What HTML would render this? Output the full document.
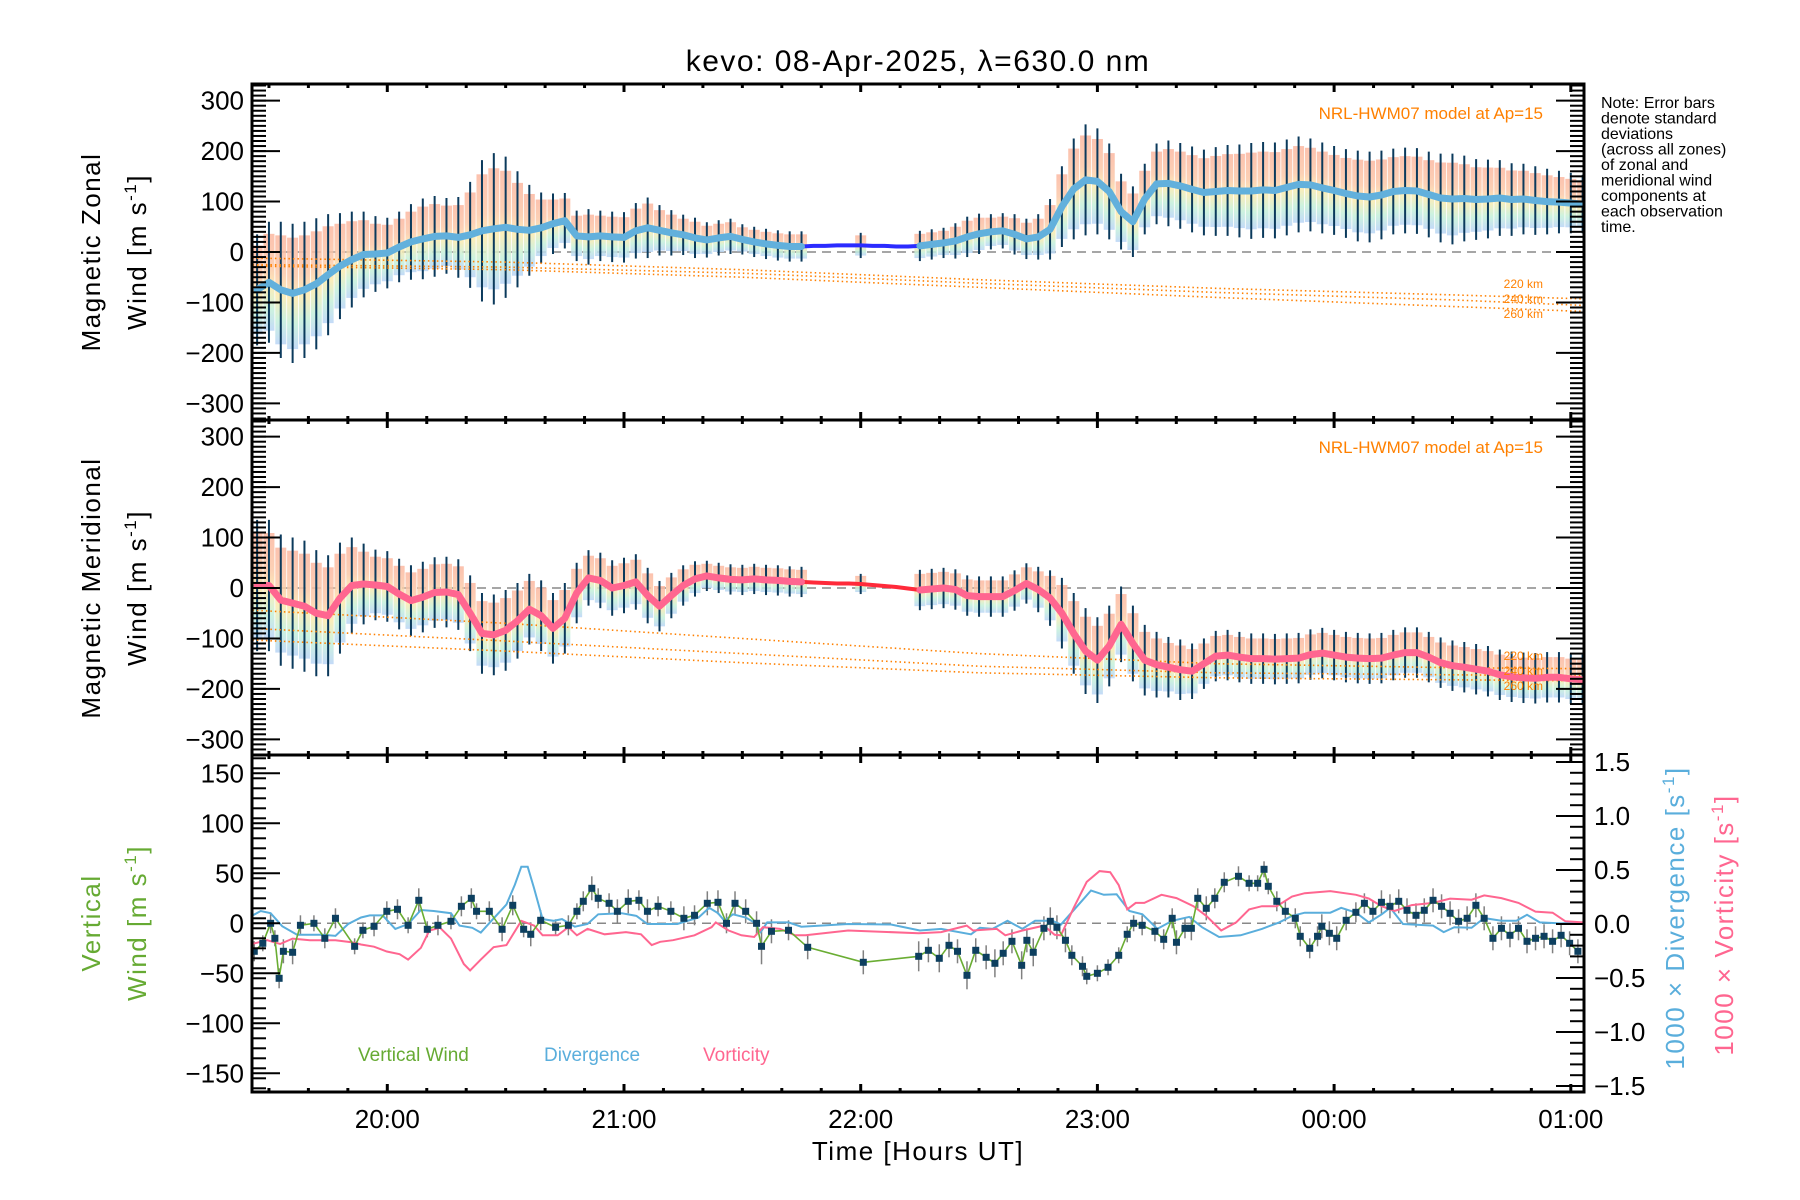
<!DOCTYPE html>
<html>
<head>
<meta charset="utf-8">
<style>
html,body{margin:0;padding:0;background:#fff;}
svg{display:block;}
text{font-family:"Liberation Sans",sans-serif;}
.ttl{letter-spacing:1.5px;}
</style>
</head>
<body>
<svg id="chart" width="1800" height="1200" viewBox="0 0 1800 1200" xmlns="http://www.w3.org/2000/svg">
<defs>
<linearGradient id="bandGrad" x1="0" y1="0" x2="0" y2="1">
<stop offset="0" stop-color="#fbb7a0"/>
<stop offset="0.35" stop-color="#fbc8a8"/>
<stop offset="0.55" stop-color="#fbeaad"/>
<stop offset="0.78" stop-color="#c4f0da"/>
<stop offset="1" stop-color="#b9d4f6"/>
</linearGradient>
<clipPath id="clipP1"><rect x="252" y="84" width="1332" height="336"/></clipPath>
<clipPath id="clipP2"><rect x="252" y="420" width="1332" height="335"/></clipPath>
<clipPath id="clipP3"><rect x="252" y="755" width="1332" height="337"/></clipPath>
</defs>
<text class="ttl" x="918" y="71" font-size="30" text-anchor="middle" fill="#000">kevo: 08-Apr-2025, λ=630.0 nm</text>
<g id="p1"></g>
<g id="p2"></g>
<g id="p3"></g>
<g id="axes"></g>

<text class="ttl" transform="translate(100,252) rotate(-90)" font-size="26" text-anchor="middle">Magnetic Zonal</text>
<text class="ttl" transform="translate(146,252) rotate(-90)" font-size="26" text-anchor="middle">Wind [m s<tspan font-size="17" dy="-10">-1</tspan><tspan dy="10">]</tspan></text>
<text class="ttl" transform="translate(100,588) rotate(-90)" font-size="26" text-anchor="middle">Magnetic Meridional</text>
<text class="ttl" transform="translate(146,588) rotate(-90)" font-size="26" text-anchor="middle">Wind [m s<tspan font-size="17" dy="-10">-1</tspan><tspan dy="10">]</tspan></text>
<text class="ttl" transform="translate(100,923) rotate(-90)" font-size="26" text-anchor="middle" fill="#66aa33">Vertical</text>
<text class="ttl" transform="translate(146,923) rotate(-90)" font-size="26" text-anchor="middle" fill="#66aa33">Wind [m s<tspan font-size="17" dy="-10">-1</tspan><tspan dy="10">]</tspan></text>
<text class="ttl" transform="translate(1684,918) rotate(-90)" font-size="26" text-anchor="middle" fill="#5aaedc">1000 × Divergence [s<tspan font-size="17" dy="-10">-1</tspan><tspan dy="10">]</tspan></text>
<text class="ttl" transform="translate(1733,925) rotate(-90)" font-size="26" text-anchor="middle" fill="#ff6690">1000 × Vorticity [s<tspan font-size="17" dy="-10">-1</tspan><tspan dy="10">]</tspan></text>
<text class="ttl" x="918" y="1160" font-size="26" text-anchor="middle">Time [Hours UT]</text>

<g font-size="16" fill="#000">
<text x="1601" y="108">Note: Error bars</text>
<text x="1601" y="123.5">denote standard</text>
<text x="1601" y="139">deviations</text>
<text x="1601" y="154.5">(across all zones)</text>
<text x="1601" y="170">of zonal and</text>
<text x="1601" y="185.5">meridional wind</text>
<text x="1601" y="201">components at</text>
<text x="1601" y="216.5">each observation</text>
<text x="1601" y="232">time.</text>
</g>
<text x="1543" y="119" font-size="17" text-anchor="end" fill="#ff8000">NRL-HWM07 model at Ap=15</text>
<text x="1543" y="453" font-size="17" text-anchor="end" fill="#ff8000">NRL-HWM07 model at Ap=15</text>
<g font-size="12" fill="#ff8000" text-anchor="end">
<text x="1543" y="288">220 km</text><text x="1543" y="303">240 km</text><text x="1543" y="318">260 km</text>
</g>
<g font-size="12" fill="#ff8000" text-anchor="end">
<text x="1543" y="660">220 km</text><text x="1543" y="675">240 km</text><text x="1543" y="690">260 km</text>
</g>
<text x="358" y="1061" font-size="19" fill="#66aa33">Vertical Wind</text>
<text x="544" y="1061" font-size="19" fill="#5aaedc">Divergence</text>
<text x="703" y="1061" font-size="19" fill="#ff6690">Vorticity</text>
</svg>
<script>
// ---- data ----
const gridStart = 19.45, gridStep = 0.05;
const zonalMean = [-75,-60,-75,-82,-75,-63,-45,-28,-15,-5,
 -4,-2,10,20,26,31,32,29,34,42,
 46,49,45,43,48,56,62,32,30,32,
 30,29,42,48,43,38,34,28,24,28,
 31,25,20,16,13,11,11,12,12,13,
 13,13,12,12,11,11,12,15,18,22,
 30,36,40,42,35,26,30,45,90,125,
 143,140,120,80,60,105,135,136,131,124,
 118,120,122,121,121,123,122,128,134,133,
 127,122,116,111,109,113,120,122,121,114,
 107,105,106,104,105,107,104,105,102,100,
 99,97,95];
const zonalStd = [110,120,135,138,135,130,120,105,95,85,
 75,70,70,75,80,80,75,80,105,140,
 150,140,115,90,70,60,55,50,55,50,
 50,50,55,60,50,45,40,40,35,35,
 35,30,30,30,30,30,30,null,null,null,
 null,25,null,null,null,null,30,30,30,35,
 40,40,35,35,40,40,45,60,80,100,
 110,105,95,75,70,70,80,85,85,85,
 85,88,90,92,95,95,95,95,95,92,
 90,88,88,90,90,88,85,85,85,85,
 88,90,85,80,78,75,72,70,68,65,
 62,60,58];
const meridMean = [5,5,-24,-30,-36,-50,-55,-20,5,8,
 6,3,-12,-25,-18,-9,-8,-13,-50,-90,
 -93,-84,-65,-42,-55,-80,-60,-10,20,15,
 0,5,12,-15,-36,-15,5,18,24,20,
 17,16,18,16,15,13,12,11,10,9,
 9,8,6,4,2,-1,-4,-2,0,-3,
 -15,-17,-17,-17,-5,9,-3,-20,-50,-90,
 -125,-143,-115,-72,-110,-143,-152,-157,-162,-165,
 -150,-135,-133,-137,-140,-140,-141,-140,-139,-132,
 -129,-133,-137,-139,-140,-139,-133,-128,-128,-137,
 -148,-154,-157,-161,-165,-172,-176,-178,-179,-177,
 -177,-180,-182];
const meridStd = [130,130,130,130,130,125,120,110,95,80,
 70,70,70,70,70,70,70,70,75,80,
 80,80,75,70,70,70,70,60,55,55,
 55,55,55,55,50,45,40,35,30,30,
 30,30,30,30,30,30,30,null,null,null,
 null,20,null,null,null,null,40,40,40,40,
 40,40,40,40,40,40,45,55,70,80,
 85,85,80,75,75,70,65,60,60,55,
 50,50,50,50,50,50,50,50,50,50,
 50,50,50,50,50,50,50,50,50,50,
 50,50,50,50,50,50,50,50,50,50,
 50,50,50];
const modelTimes = [19.43,20.5,21.5,22.5,23.5,24.5,25.06];
const zonalModel220 = [-12,-20,-35,-55,-72,-85,-93];
const zonalModel240 = [-25,-30,-42,-62,-80,-95,-106];
const zonalModel260 = [-28,-35,-50,-70,-90,-108,-118];
const meridModel220 = [-44,-70,-100,-130,-150,-158,-160];
const meridModel240 = [-80,-105,-130,-155,-168,-172,-174];
const meridModel260 = [-103,-125,-148,-168,-178,-182,-184];

const vertTimes = [19.438,19.474,19.507,19.525,19.543,19.561,19.600,19.633,19.690,19.736,19.781,19.862,19.897,19.944,19.998,
 20.043,20.088,20.133,20.169,20.214,20.269,20.313,20.355,20.377,20.431,20.485,20.530,20.576,20.606,20.648,
 20.711,20.765,20.801,20.828,20.864,20.891,20.937,20.972,21.018,21.063,21.099,21.144,21.198,21.253,21.298,
 21.352,21.397,21.433,21.469,21.514,21.560,21.581,21.623,21.695,21.776,22.011,22.245,22.286,22.332,22.373,
 22.409,22.449,22.486,22.530,22.567,22.602,22.639,22.680,22.702,22.729,22.774,22.801,22.829,22.865,22.892,
 22.937,22.955,23.000,23.045,23.090,23.126,23.153,23.189,23.243,23.280,23.316,23.334,23.370,23.397,23.424,
 23.460,23.496,23.536,23.596,23.641,23.677,23.704,23.722,23.758,23.794,23.836,23.857,23.897,23.930,23.948,
 23.980,24.011,24.051,24.092,24.128,24.164,24.200,24.236,24.273,24.308,24.346,24.381,24.418,24.454,24.490,
 24.526,24.562,24.599,24.634,24.671,24.707,24.743,24.779,24.815,24.851,24.887,24.923,24.959,24.995,25.030];
const vertWind = [-28,-20,0,-15,-55,-28,-29,-2,0,-15,5,-23,-7,-3,12,
 14,-2,23,-6,-2,2,17,25,12,12,-6,18,-6,-11,3,
 -4,-2,12,22,35,25,20,12,22,23,12,17,12,5,8,
 20,21,0,20,12,0,-23,-8,-7,-24,-39,-33,-27,-35,-22,
 -28,-52,-27,-34,-40,-30,-18,-42,-17,-29,-5,2,-4,-17,-32,
 -43,-53,-50,-44,-32,-11,0,-2,-8,-16,5,-19,-5,-5,25,
 15,25,41,47,40,40,54,37,22,12,5,-13,-25,-13,-3,
 -10,-15,3,11,20,12,21,17,22,13,8,13,23,17,10,
 2,5,18,5,-15,-5,-12,-5,-18,-15,-13,-18,-12,-20,-28];
const vertErr = [10,8,10,8,10,12,12,10,8,10,10,8,8,10,10,
 10,8,12,8,10,8,10,10,8,10,12,10,8,12,10,
 8,10,8,10,12,10,10,12,12,10,12,10,10,12,10,
 12,12,10,12,12,12,18,12,10,12,12,15,12,14,12,
 12,14,12,12,14,12,12,14,12,14,12,14,12,12,10,
 10,8,8,8,8,8,8,10,10,10,10,12,10,12,10,
 12,10,10,10,8,8,8,8,10,10,10,10,10,10,12,
 12,12,10,10,10,10,12,12,12,12,12,12,12,12,12,
 12,12,12,12,12,12,12,12,12,12,12,12,12,12,12];

const divTimes = [19.42,19.465,19.507,19.556,19.619,19.727,19.781,19.835,19.889,19.926,19.98,20.034,20.088,20.142,20.196,
 20.269,20.305,20.359,20.395,20.44,20.503,20.539,20.566,20.593,20.62,20.656,20.702,20.738,20.792,20.846,
 20.891,20.99,21.053,21.099,21.225,21.315,21.36,21.397,21.424,21.46,21.514,21.55,21.577,21.605,21.659,
 21.695,21.749,21.947,22.128,22.25,22.34,22.466,22.503,22.557,22.62,22.683,22.737,22.81,22.846,22.937,
 22.973,23.027,23.081,23.135,23.19,23.253,23.316,23.388,23.442,23.514,23.605,23.695,23.768,23.822,23.876,
 23.984,24.03,24.093,24.147,24.201,24.237,24.291,24.418,24.463,24.508,24.581,24.634,24.707,24.77,24.815,
 24.869,24.959,25.05];
const divergence = [0.066,0.12,0.10,-0.02,-0.10,-0.10,-0.11,0,0.06,0.08,0.08,-0.045,0,0.13,0.12,
 0.10,-0.015,-0.035,-0.08,0.03,0.18,0.365,0.53,0.53,0.33,0.045,0.03,0.045,-0.025,0,
 0.09,0.10,0.075,0,0,0.06,0.15,0.10,0.03,0.09,0.06,0.015,-0.075,0.015,0.015,
 0.015,-0.025,0,-0.005,-0.06,-0.045,-0.095,-0.035,-0.045,0.03,-0.045,0.03,0.03,-0.006,0.22,
 0.31,0.27,0.275,0.12,0.09,-0.045,0.03,0.066,-0.03,-0.12,-0.105,-0.045,0.015,0.075,0.105,
 0.105,0.15,0.105,0.015,0.09,0.15,0,-0.015,-0.075,-0.03,-0.035,0.055,0.03,0.03,0.085,
 0.015,0.006,0.015];
const vortTimes = [19.42,19.492,19.547,19.6,19.673,19.781,19.853,19.889,19.944,19.998,20.052,20.088,20.142,20.178,20.223,
 20.269,20.323,20.35,20.395,20.449,20.503,20.566,20.62,20.656,20.72,20.765,20.801,20.846,20.918,21.008,
 21.072,21.117,21.153,21.207,21.298,21.37,21.388,21.442,21.496,21.55,21.587,21.659,21.722,21.767,21.947,
 22.245,22.34,22.448,22.475,22.575,22.611,22.683,22.774,22.819,22.846,22.9,22.955,23.009,23.054,23.09,
 23.126,23.162,23.198,23.271,23.334,23.406,23.46,23.523,23.586,23.641,23.695,23.758,23.822,23.876,23.984,
 24.093,24.147,24.201,24.255,24.328,24.418,24.49,24.581,24.634,24.707,24.779,24.851,24.923,24.977,25.05];
const vorticity = [-0.19,-0.15,-0.185,-0.135,-0.15,-0.15,-0.17,-0.19,-0.21,-0.255,-0.28,-0.33,-0.22,-0.06,-0.035,
 -0.135,-0.37,-0.43,-0.33,-0.215,-0.195,0.03,-0.015,-0.105,-0.105,-0.03,-0.105,-0.045,-0.095,-0.075,
 -0.095,-0.195,-0.165,-0.15,-0.105,-0.03,0.015,-0.06,-0.105,-0.12,-0.03,-0.045,-0.105,-0.105,-0.06,
 -0.085,-0.075,-0.015,-0.06,-0.045,-0.105,-0.06,-0.015,-0.1,-0.105,0.15,0.39,0.49,0.48,0.36,
 0.135,0.195,0.195,0.27,0.24,0.165,0.075,-0.06,0.015,0.135,0.165,0.165,0.255,0.285,0.305,
 0.27,0.235,0.165,0.12,0.175,0.195,0.235,0.225,0.265,0.24,0.195,0.115,0.105,0.025,0.015];

const yTicksWind = [-300,-200,-100,0,100,200,300];
const yTicksVert = [-150,-100,-50,0,50,100,150];
const yTicksRight = [-1.5,-1.0,-0.5,0.0,0.5,1.0,1.5];
const xTickHours = [20,21,22,23,24,25];
const xTickLabels = ["20:00","21:00","22:00","23:00","00:00","01:00"];

// ---- scales ----
const X0 = 252, X1 = 1584;
function xs(h){ return 387.3 + (h - 20) * 236.7; }
function yZ(v){ return 252 - v * 0.5045; }
function yM(v){ return 588 - v * 0.5045; }
function yV(v){ return 923.3 - v * 1.0; }
function yR(d){ return 924 - d * 108; }
const NS = "http://www.w3.org/2000/svg";
function mk(tag, attrs, parent){
  const e = document.createElementNS(NS, tag);
  for (const k in attrs) e.setAttribute(k, attrs[k]);
  parent.appendChild(e);
  return e;
}
function gridT(i){ return gridStart + gridStep * i; }
function pathFrom(ts, vs, yf){
  let d = "";
  for (let i = 0; i < ts.length; i++){ d += (i ? "L" : "M") + xs(ts[i]).toFixed(1) + " " + yf(vs[i]).toFixed(1); }
  return d;
}

function drawWindPanel(gid, clip, mean, std, yf, lineDark, lineLight, m220, m240, m260, prefix){
  const g = document.getElementById(gid);
  const cg = mk("g", {"clip-path": "url(#" + clip + ")"}, g);
  const zl = mk("line", {x1: X0, x2: X1, y1: yf(0), y2: yf(0), stroke: "#888", "stroke-width": 1.5, "stroke-dasharray": "9,6"}, cg);
  
  
  for (let i = 0; i < mean.length; i++){
    if (std[i] === null) continue;
    const t = gridT(i);
    const r = mk("rect", {x: xs(t) - 5.5, y: yf(mean[i] + std[i] * 0.8), width: 11, height: Math.abs(yf(mean[i] - std[i] * 0.8) - yf(mean[i] + std[i] * 0.8)), fill: "url(#bandGrad)", opacity: 0.85}, cg);
    
    
  }
  for (let i = 0; i < mean.length; i++){
    if (std[i] === null) continue;
    const t = gridT(i);
    const b = mk("line", {x1: xs(t), x2: xs(t), y1: yf(mean[i] + std[i]), y2: yf(mean[i] - std[i]), stroke: "#0b3a5c", "stroke-width": 2}, cg);
    
    
  }
  [m220, m240, m260].forEach(function(arr, k){
    const p = mk("path", {d: pathFrom(modelTimes, arr, yf), fill: "none", stroke: "#ff8000", "stroke-width": 1.6, "stroke-dasharray": "1.5,3"}, cg);
    
    
  });
  const ts = mean.map(function(_, i){ return gridT(i); });
  const dl = mk("path", {d: pathFrom(ts, mean, yf), fill: "none", stroke: lineDark, "stroke-width": 4}, cg);
  
  
  let d = "", pen = false;
  for (let i = 0; i < mean.length; i++){
    if (std[i] === null){ pen = false; continue; }
    d += (pen ? "L" : "M") + xs(gridT(i)).toFixed(1) + " " + yf(mean[i]).toFixed(1);
    pen = true;
  }
  const ll = mk("path", {d: d, fill: "none", stroke: lineLight, "stroke-width": 7, "stroke-linejoin": "round", "stroke-linecap": "round"}, cg);
  
  
}

drawWindPanel("p1", "clipP1", zonalMean, zonalStd, yZ, "#2b2bff", "#62b0dc", zonalModel220, zonalModel240, zonalModel260, "zonal");
drawWindPanel("p2", "clipP2", meridMean, meridStd, yM, "#ff2a3a", "#ff6690", meridModel220, meridModel240, meridModel260, "meridional");

(function(){
  const g = document.getElementById("p3");
  const cg = mk("g", {"clip-path": "url(#clipP3)"}, g);
  const zl = mk("line", {x1: X0, x2: X1, y1: yV(0), y2: yV(0), stroke: "#888", "stroke-width": 1.5, "stroke-dasharray": "9,6"}, cg);
  
  
  for (let i = 0; i < vertTimes.length; i++){
    const b = mk("line", {x1: xs(vertTimes[i]), x2: xs(vertTimes[i]), y1: yV(vertWind[i] + vertErr[i]), y2: yV(vertWind[i] - vertErr[i]), stroke: "#808080", "stroke-width": 1.5}, cg);
    
    
  }
  const dp = mk("path", {d: pathFrom(divTimes, divergence, yR), fill: "none", stroke: "#5aaedc", "stroke-width": 2}, cg);
  
  
  const vp = mk("path", {d: pathFrom(vortTimes, vorticity, yR), fill: "none", stroke: "#ff6690", "stroke-width": 2}, cg);
  
  
  const wl = mk("path", {d: pathFrom(vertTimes, vertWind, yV), fill: "none", stroke: "#6aad33", "stroke-width": 1.6}, cg);
  
  
  for (let i = 0; i < vertTimes.length; i++){
    const s = mk("rect", {x: xs(vertTimes[i]) - 3.5, y: yV(vertWind[i]) - 3.5, width: 7, height: 7, fill: "#0d3f5f"}, cg);
    
    
  }
})();

(function(){
  const g = document.getElementById("axes");
  const panels = [
    {top: 84, bot: 420, yf: yZ, ticks: yTicksWind, minStep: 10, lo: -330, hi: 330, name: "zonal"},
    {top: 420, bot: 755, yf: yM, ticks: yTicksWind, minStep: 10, lo: -330, hi: 330, name: "meridional"},
    {top: 755, bot: 1092, yf: yV, ticks: yTicksVert, minStep: 10, lo: -165, hi: 165, name: "vertical"}
  ];
  panels.forEach(function(p, pi){
    const fr = mk("rect", {x: X0, y: p.top, width: X1 - X0, height: p.bot - p.top, fill: "none", stroke: "#000", "stroke-width": 3}, g);
    
    
    for (let v = p.lo; v <= p.hi; v += p.minStep){
      const y = p.yf(v);
      if (y < p.top + 1 || y > p.bot - 1) continue;
      mk("line", {x1: X0, x2: X0 + 14, y1: y, y2: y, stroke: "#000", "stroke-width": 2}, g);
      if (pi < 2) mk("line", {x1: X1, x2: X1 - 14, y1: y, y2: y, stroke: "#000", "stroke-width": 2}, g);
    }
    p.ticks.forEach(function(v){
      const y = p.yf(v);
      mk("line", {x1: X0, x2: X0 + 28, y1: y, y2: y, stroke: "#000", "stroke-width": 2}, g);
      if (pi < 2) mk("line", {x1: X1, x2: X1 - 28, y1: y, y2: y, stroke: "#000", "stroke-width": 2}, g);
      const t = mk("text", {x: 244, y: y + 9, "font-size": 26, "text-anchor": "end"}, g);
      t.textContent = (v < 0 ? "\u2212" + Math.abs(v) : String(v));
      
      
    });
    for (let mm = 20 * 60 - 30; mm <= 25 * 60 + 10; mm += 10){
      const x = xs(mm / 60);
      if (x < X0 + 2 || x > X1 - 2) continue;
      const major = (mm % 60 === 0);
      const L = major ? 8 : 4;
      mk("line", {x1: x, x2: x, y1: p.top, y2: p.top + L, stroke: "#000", "stroke-width": 3}, g);
      mk("line", {x1: x, x2: x, y1: p.bot, y2: p.bot - L, stroke: "#000", "stroke-width": 3}, g);
    }
  });
  for (let d = -1.6; d <= 1.61; d += 0.1){
    const y = yR(d);
    if (y < 756 || y > 1091) continue;
    mk("line", {x1: X1, x2: X1 - 14, y1: y, y2: y, stroke: "#000", "stroke-width": 2}, g);
  }
  yTicksRight.forEach(function(d){
    const y = yR(d);
    mk("line", {x1: X1, x2: X1 - 28, y1: y, y2: y, stroke: "#000", "stroke-width": 2}, g);
    const t = mk("text", {x: 1594, y: y + 9, "font-size": 26, "text-anchor": "start"}, g);
    t.textContent = (d < 0 ? "\u2212" + Math.abs(d).toFixed(1) : d.toFixed(1));
    
    
  });
  xTickHours.forEach(function(h, i){
    const t = mk("text", {x: xs(h), y: 1128, "font-size": 26, "text-anchor": "middle"}, g);
    t.textContent = xTickLabels[i];
    
    
  });
})();
</script>
</body>
</html>
